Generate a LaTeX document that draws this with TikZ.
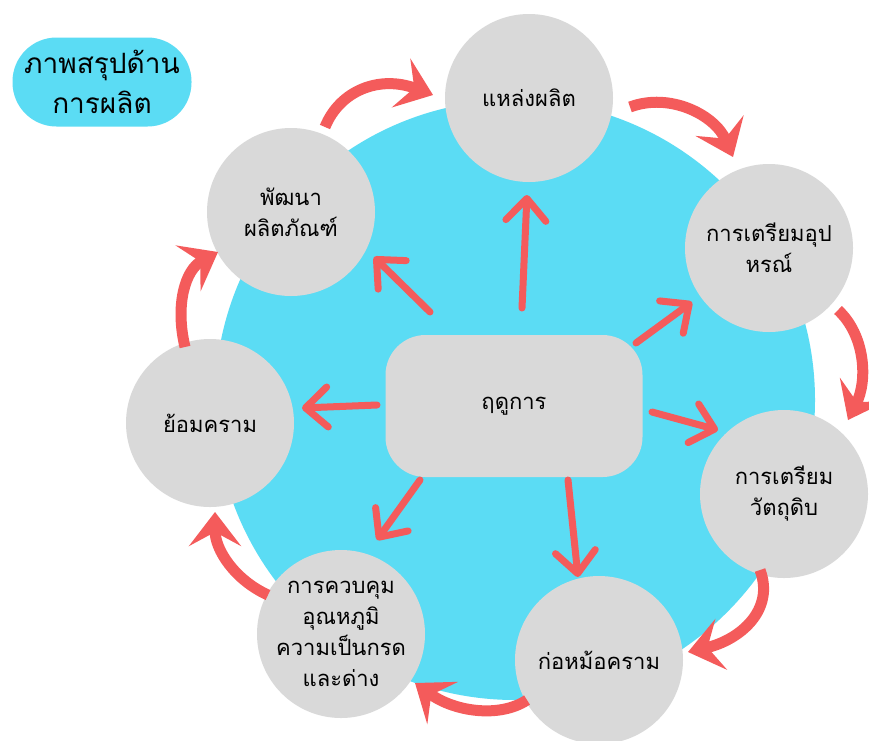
\documentclass[tikz,border=0pt]{standalone}
\usepackage{fontspec}
\newfontfamily\thaifont[Script=Thai]{Loma}
\usetikzlibrary{arrows.meta,calc}
\definecolor{skyc}{HTML}{5BDCF4}
\definecolor{nodegray}{HTML}{D9D9D9}
\definecolor{arrowred}{HTML}{F45B5B}
\begin{document}
\begin{tikzpicture}[x=1pt,y=-1pt,
  stage/.style={circle, fill=nodegray, minimum size=168pt, inner sep=0pt, align=center,
    font=\thaifont\fontsize{22}{31}\selectfont, text=black},
  hub/.style={rectangle, rounded corners=40pt, fill=nodegray, minimum width=257pt,
    minimum height=142pt, align=center, font=\thaifont\fontsize{22}{31}\selectfont, text=black},
  titlebox/.style={rectangle, rounded corners=44pt, fill=skyc, minimum width=179pt,
    minimum height=89pt, align=center, font=\thaifont\fontsize{28}{40}\selectfont, text=black},
  radial/.style={arrowred, line width=7pt, line cap=round,
    -{Straight Barb[length=22pt,width=40pt,round]}},
  swoosh/.style={arrowred, line width=11pt,
    -{Stealth[length=34pt,width=52pt,inset=14pt]}}]
\useasboundingbox (0,0) rectangle (869,740);
\fill[white] (0,0) rectangle (869,740);
% big background disc
\fill[skyc] (515,400) circle[radius=300pt];
% title
\node[titlebox] (title) at (102,82) {ภาพสรุปด้าน\\การผลิต};
% stages
\node[stage] (src)   at (529,98)  {แหล่งผลิต};
\node[stage] (equip) at (769,248) {การเตรียมอุป\\หรณ์};
\node[stage] (raw)   at (784,494) {การเตรียม\\วัตถุดิบ};
\node[stage] (pot)   at (599,660) {ก่อหม้อคราม};
\node[stage] (ctrl)  at (341,634) {การควบคุม\\อุณหภูมิ\\ความเป็นกรด\\และด่าง};
\node[stage] (dye)   at (210,423) {ย้อมคราม};
\node[stage] (dev)   at (291,212) {พัฒนา\\ผลิตภัณฑ์};
% hub
\node[hub] (ctr) at (514,406) {ฤดูการ};
% radial arrows
\draw[radial] ($(ctr)+(8,-98)$)   -- ($(src)+(-2,97)$);
\draw[radial] ($(ctr)+(-84,-94)$) -- ($(dev)+(83,45)$);
\draw[radial] ($(ctr)+(122,-63)$) -- ($(equip)+(-77,54)$);
\draw[radial] ($(ctr)+(138,6)$)   -- ($(raw)+(-66,-64)$);
\draw[radial] ($(ctr)+(54,74)$)   -- ($(pot)+(-21,-83)$);
\draw[radial] ($(ctr)+(-94,74)$)  -- ($(ctrl)+(36,-94)$);
\draw[radial] ($(ctr)+(-137,-1)$) -- ($(dye)+(92,-15)$);
% cycle arrows
\draw[swoosh] ($(dev)+(34,-85)$)   .. controls +(15,-37) and +(-53,-20) .. ($(src)+(-96,-3)$);
\draw[swoosh] ($(src)+(101,9)$)    .. controls +(40,-15) and +(-18,-42) .. ($(equip)+(-36,-91)$);
\draw[swoosh] ($(equip)+(69,62)$)  .. controls +(27,25)  and +(20,-40)  .. ($(raw)+(64,-74)$);
\draw[swoosh] ($(raw)+(-24,76)$)   .. controls +(15,40)  and +(52,-12)  .. ($(pot)+(89,-8)$);
\draw[swoosh] ($(pot)+(-72,40)$)   .. controls +(-27,18) and +(40,29)   .. ($(ctrl)+(74,49)$);
\draw[swoosh] ($(ctrl)+(-73,-39)$) .. controls +(-33,-15) and +(0,38)   .. ($(dye)+(5,89)$);
\draw[swoosh] ($(dye)+(-25,-76)$)  .. controls +(-10,-42) and +(-33,18) .. ($(dev)+(-73,40)$);
\end{tikzpicture}
\end{document}
